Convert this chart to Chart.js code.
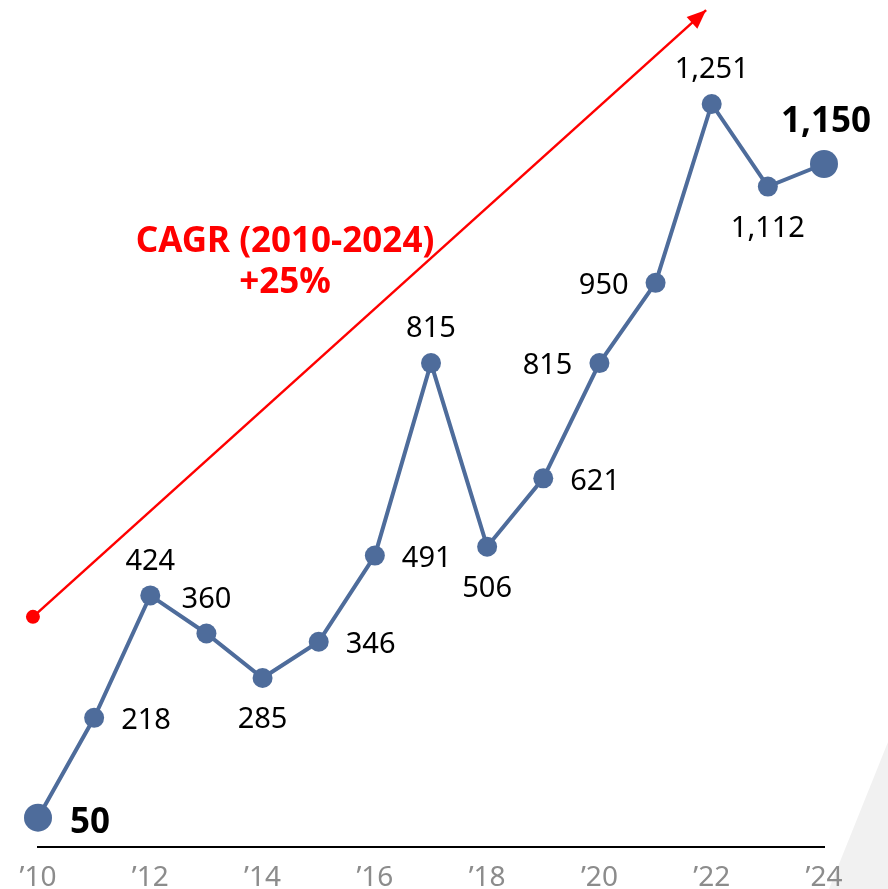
<!DOCTYPE html>
<html>
<head>
<meta charset="utf-8">
<script src="https://cdn.jsdelivr.net/npm/chart.js@4"></script>
<style>
  body { margin: 0; background: #fff; }
  canvas { display: block; }
</style>
</head>
<body>
<canvas id="myChart" width="888" height="889"></canvas>
<script>
// data
var years = [2010, 2011, 2012, 2013, 2014, 2015, 2016, 2017, 2018, 2019, 2020, 2021, 2022, 2023, 2024];
var sales = [50, 218, 424, 360, 285, 346, 491, 815, 506, 621, 815, 950, 1251, 1112, 1150];
var tickYears = [2010, 2012, 2014, 2016, 2018, 2020, 2022, 2024];
// CAGR arrow, from/to in chart units (x = year, y = value)
var cagrFrom = { x: 2009.91, y: 388 };
var cagrTo = { x: 2021.9, y: 1409 };
var cagrText = ["CAGR (2010-2024)", "+25%"];
var cagrTextAt = { x: 2014.4, y: 1019 };

var BLUE = "#4e6c9b";
var RED = "#ff0000";
var FONT = "'Noto Sans', 'Open Sans', sans-serif";

// where each value label sits relative to its point
var labelPos = ["right", "right", "above", "above", "below", "right", "right", "above",
                "below", "right", "left", "left", "above", "below", "above"];

var bgPlugin = {
  id: "bg",
  beforeDraw: function (chart) {
    var ctx = chart.ctx;
    ctx.save();
    ctx.fillStyle = "#f1f1f1";
    ctx.beginPath();
    ctx.moveTo(829, chart.height);
    ctx.lineTo(chart.width, 742);
    ctx.lineTo(chart.width, chart.height);
    ctx.closePath();
    ctx.fill();
    ctx.restore();
  }
};

var labelPlugin = {
  id: "labels",
  afterDatasetsDraw: function (chart) {
    var ctx = chart.ctx;
    var xs = chart.scales.x, ys = chart.scales.y;
    ctx.save();

    // arrow head at the end of the CAGR line
    var arr = chart.getDatasetMeta(1).data;
    var a = arr[0], b = arr[arr.length - 1];
    var ang = Math.atan2(b.y - a.y, b.x - a.x);
    var hl = 19, hw = 8;
    ctx.fillStyle = RED;
    ctx.beginPath();
    ctx.moveTo(b.x, b.y);
    ctx.lineTo(b.x - hl * Math.cos(ang) + hw * Math.sin(ang), b.y - hl * Math.sin(ang) - hw * Math.cos(ang));
    ctx.lineTo(b.x - hl * Math.cos(ang) - hw * Math.sin(ang), b.y - hl * Math.sin(ang) + hw * Math.cos(ang));
    ctx.closePath();
    ctx.fill();

    // CAGR text
    ctx.font = "bold 35px " + FONT;
    ctx.textAlign = "center";
    ctx.textBaseline = "middle";
    var cx = xs.getPixelForValue(cagrTextAt.x);
    var cy = ys.getPixelForValue(cagrTextAt.y);
    cagrText.forEach(function (t, i) {
      ctx.fillText(t, cx, cy + i * 41);
    });

    // value labels
    var pts = chart.getDatasetMeta(0).data;
    ctx.fillStyle = "#000";
    pts.forEach(function (p, i) {
      var last = i === 0 || i === pts.length - 1;
      var txt = sales[i].toLocaleString("en-US");
      ctx.font = (last ? "bold 35px " : "29px ") + FONT;
      var pos = labelPos[i];
      var x = p.x, y = p.y;
      if (pos === "right") {
        ctx.textAlign = "left";
        x += last ? 32 : 27;
        y += last ? 5 : 3;
      } else if (pos === "left") {
        ctx.textAlign = "right";
        x -= 27;
        y += 3;
      } else if (pos === "above") {
        ctx.textAlign = "center";
        y -= last ? 42 : 34;
        x += last ? 2 : 0;
      } else {
        ctx.textAlign = "center";
        y += 42;
      }
      ctx.fillText(txt, x, y);
    });
    ctx.restore();
  }
};

var ctx = document.getElementById("myChart").getContext("2d");
var myChart = new Chart(ctx, {
  type: "line",
  data: {
    datasets: [
      {
        label: "sales",
        data: years.map(function (y, i) { return { x: y, y: sales[i] }; }),
        borderColor: BLUE,
        backgroundColor: BLUE,
        borderWidth: 4,
        pointRadius: sales.map(function (v, i) { return (i === 0 || i === sales.length - 1) ? 14 : 10; }),
        pointBorderWidth: 0,
        tension: 0,
        clip: false
      },
      {
        label: "cagr",
        data: [cagrFrom, cagrTo],
        borderColor: RED,
        backgroundColor: RED,
        borderWidth: 2.5,
        pointRadius: [7, 0],
        pointBorderWidth: 0,
        clip: false
      }
    ]
  },
  options: {
    responsive: false,
    animation: false,
    layout: { autoPadding: false, padding: { left: 38, right: 64, top: 0, bottom: -20 } },
    plugins: { legend: { display: false }, tooltip: { enabled: false } },
    scales: {
      x: {
        type: "linear",
        min: 2010,
        max: 2024,
        afterBuildTicks: function (scale) {
          scale.ticks = tickYears.map(function (v) { return { value: v }; });
        },
        grid: { display: false, drawTicks: false },
        border: { display: true, color: "#000", width: 2 },
        ticks: {
          autoSkip: false,
          maxRotation: 0,
          padding: 14,
          color: "#8c8c8c",
          font: { family: FONT, size: 28, lineHeight: 1.2 },
          callback: function (v) { return "\u2019" + String(v).slice(2); }
        }
      },
      y: {
        display: false,
        min: 0,
        max: 1426
      }
    }
  },
  plugins: [bgPlugin, labelPlugin]
});
</script>
</body>
</html>
